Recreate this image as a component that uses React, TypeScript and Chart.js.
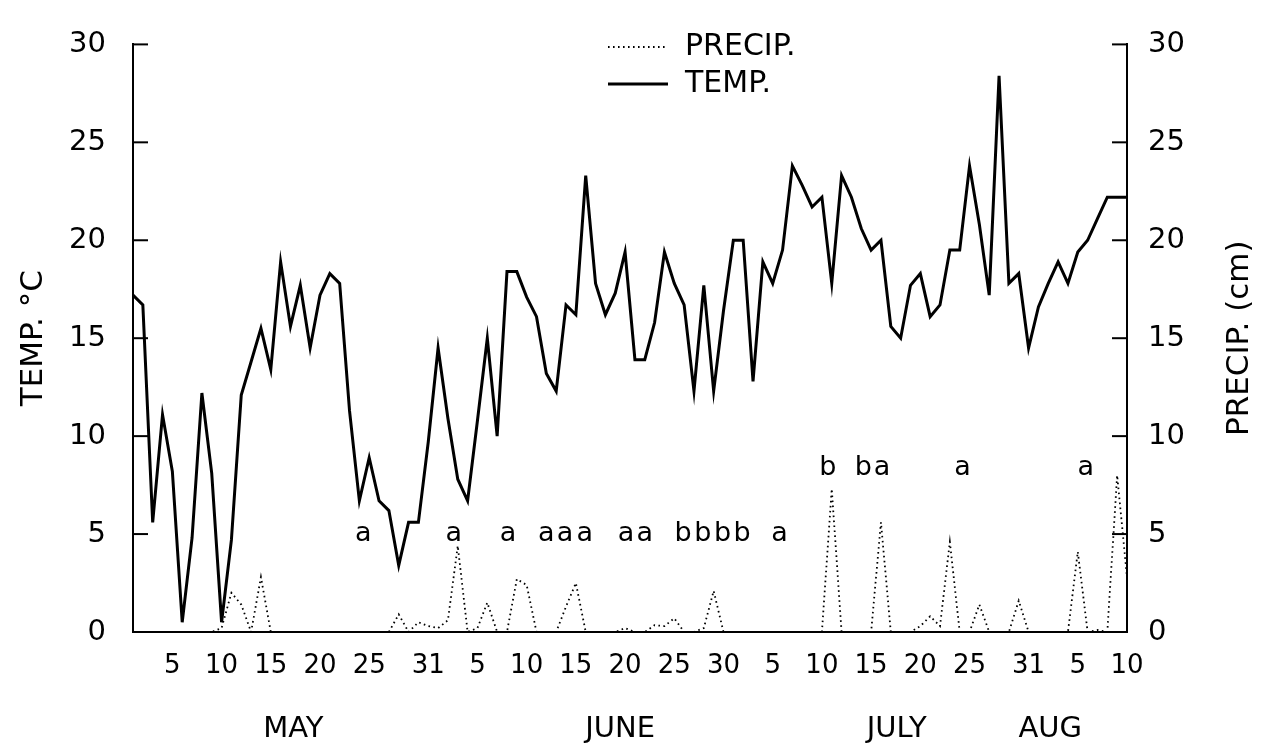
import React, { useEffect, useRef } from 'react';
import { Chart, registerables } from 'chart.js';

Chart.register(...registerables);

// Daily series, May 1 (day 0) to Aug 10 (day 101)
const tempValues = [
  17.2, 16.7, 5.6, 11.1, 8.2, 0.5, 4.8, 12.2, 8.1, 0.5,
  4.7, 12.1, 13.8, 15.5, 13.4, 18.9, 15.6, 17.7, 14.5, 17.2,
  18.3, 17.8, 11.3, 6.7, 8.9, 6.7, 6.2, 3.4, 5.6, 5.6,
  9.7, 14.5, 10.9, 7.8, 6.7, 10.8, 15.0, 10.0, 18.4, 18.4,
  17.1, 16.1, 13.2, 12.3, 16.7, 16.2, 23.3, 17.8, 16.2, 17.3,
  19.4, 13.9, 13.9, 15.8, 19.4, 17.8, 16.7, 12.3, 17.7, 12.3,
  16.4, 20.0, 20.0, 12.8, 18.9, 17.8, 19.5, 23.8, 22.8, 21.7,
  22.2, 17.8, 23.3, 22.2, 20.6, 19.5, 20.0, 15.6, 15.0, 17.7,
  18.3, 16.1, 16.7, 19.5, 19.5, 23.8, 20.8, 17.2, 28.4, 17.8,
  18.3, 14.5, 16.6, 17.8, 18.9, 17.8, 19.4, 20.0, 21.1, 22.2,
  22.2, 22.2,
];

const precipValues = [
  0, 0, 0, 0, 0, 0, 0, 0, 0, 0.2,
  2.0, 1.4, 0, 2.8, 0, 0, 0, 0, 0, 0,
  0, 0, 0, 0, 0, 0, 0, 0.9, 0, 0.5,
  0.3, 0.2, 0.6, 4.4, 0, 0.2, 1.5, 0, 0, 2.7,
  2.4, 0, 0, 0, 1.3, 2.5, 0, 0, 0, 0,
  0.2, 0, 0, 0.35, 0.3, 0.7, 0, 0, 0.2, 2.1,
  0, 0, 0, 0, 0, 0, 0, 0, 0, 0,
  0, 7.3, 0, 0, 0, 0, 5.6, 0, 0, 0,
  0.3, 0.8, 0.3, 4.6, 0, 0, 1.4, 0, 0, 0,
  1.6, 0, 0, 0, 0, 0, 4.1, 0, 0.1, 0,
  8.0, 2.8,
];

const xTickDays = [4, 9, 14, 19, 24, 30, 35, 40, 45, 50, 55, 60, 65, 70, 75, 80, 85, 91, 96, 101];
const xTickLabels = ['5', '10', '15', '20', '25', '31', '5', '10', '15', '20', '25', '30', '5', '10', '15', '20', '25', '31', '5', '10'];

const monthLabels = ['MAY', 'JUNE', 'JULY', 'AUG'];
const monthCenters = [16.3, 49.5, 77.6, 93.2];

const letterTexts = ['a', 'a', 'a', 'a', 'a', 'a', 'a', 'a', 'b', 'b', 'b', 'b', 'a', 'b', 'b', 'a', 'a', 'a'];
const letterDays = [23.4, 32.6, 38.1, 42.0, 43.9, 45.9, 50.1, 52.0, 55.9, 57.9, 59.9, 61.9, 65.7, 70.6, 74.2, 76.1, 84.3, 96.8];
const letterLevels = [4.65, 4.65, 4.65, 4.65, 4.65, 4.65, 4.65, 4.65, 4.65, 4.65, 4.65, 4.65, 4.65, 8.0, 8.0, 8.0, 8.0, 8.0];

const leftAxisTitle = 'TEMP. °C';
const rightAxisTitle = 'PRECIP. (cm)';

const FONT = "'DejaVu Sans', sans-serif";

const inwardTicks = {
  id: 'inwardTicks',
  afterDraw(chart: any) {
    const ctx = chart.ctx;
    ['y', 'y2'].forEach((id) => {
      const s = chart.scales[id];
      ctx.save();
      ctx.strokeStyle = '#000';
      ctx.lineWidth = 2;
      s.ticks.forEach((t: any) => {
        const py = s.getPixelForValue(t.value);
        const x0 = id === 'y' ? s.right : s.left;
        const dir = id === 'y' ? 1 : -1;
        ctx.beginPath();
        ctx.moveTo(x0, py);
        ctx.lineTo(x0 + dir * 15, py);
        ctx.stroke();
      });
      ctx.restore();
    });
  },
};

const rightTitle = {
  id: 'rightTitle',
  afterDraw(chart: any) {
    const ctx = chart.ctx;
    const s = chart.scales.y2;
    ctx.save();
    ctx.translate(1240, (s.top + s.bottom) / 2);
    ctx.rotate(-Math.PI / 2);
    ctx.fillStyle = '#000';
    ctx.font = `31px ${FONT}`;
    ctx.textAlign = 'center';
    ctx.textBaseline = 'middle';
    ctx.fillText(rightAxisTitle, 0, 0);
    ctx.restore();
  },
};

const letterMarks = {
  id: 'letterMarks',
  afterDatasetsDraw(chart: any) {
    const ctx = chart.ctx;
    const xs = chart.scales.x;
    const ys = chart.scales.y;
    ctx.save();
    ctx.fillStyle = '#000';
    ctx.font = `27px ${FONT}`;
    ctx.textAlign = 'center';
    ctx.textBaseline = 'alphabetic';
    letterTexts.forEach((t, i) => {
      ctx.fillText(t, xs.getPixelForValue(letterDays[i]), ys.getPixelForValue(letterLevels[i]));
    });
    ctx.restore();
  },
};

const customLegend = {
  id: 'customLegend',
  afterDraw(chart: any) {
    const ctx = chart.ctx;
    const x0 = 608;
    const x1 = 668;
    const tx = 685;
    const rows = [47, 84];
    ctx.save();
    chart.data.datasets.forEach((ds: any, i: number) => {
      const y = rows[i];
      ctx.strokeStyle = ds.borderColor;
      ctx.lineWidth = ds.borderWidth;
      ctx.setLineDash(ds.borderDash || []);
      ctx.beginPath();
      ctx.moveTo(x0, y);
      ctx.lineTo(x1, y);
      ctx.stroke();
      ctx.setLineDash([]);
      ctx.fillStyle = '#000';
      ctx.font = `30px ${FONT}`;
      ctx.textAlign = 'left';
      ctx.textBaseline = 'middle';
      ctx.fillText(ds.label, tx, y);
    });
    ctx.restore();
  },
};

export default function App() {
  const canvasRef = useRef<HTMLCanvasElement | null>(null);

  useEffect(() => {
    if (!canvasRef.current) return;
    const chart = new Chart(canvasRef.current, {
      type: 'line',
      data: {
        datasets: [
          {
            label: 'PRECIP.',
            data: precipValues.map((v, i) => ({ x: i, y: v })),
            yAxisID: 'y2',
            borderColor: '#000',
            borderWidth: 1.8,
            borderDash: [1.6, 3.4],
            pointRadius: 0,
            tension: 0,
            fill: false,
          },
          {
            label: 'TEMP.',
            data: tempValues.map((v, i) => ({ x: i, y: v })),
            yAxisID: 'y',
            borderColor: '#000',
            borderWidth: 3,
            pointRadius: 0,
            tension: 0,
            fill: false,
          },
        ],
      },
      options: {
        animation: false,
        responsive: false,
        layout: { padding: { top: 25, left: 0, right: 0, bottom: 0 } },
        plugins: {
          legend: { display: false },
          tooltip: { enabled: false },
        },
        scales: {
          x: {
            type: 'linear',
            position: 'bottom',
            min: 0,
            max: 101,
            weight: 0,
            afterBuildTicks: (s: any) => {
              s.ticks = xTickDays.map((v) => ({ value: v }));
            },
            afterFit: (s: any) => {
              s.height = 60;
            },
            ticks: {
              autoSkip: false,
              maxRotation: 0,
              padding: 19,
              color: '#000',
              font: { family: FONT, size: 26 },
              callback: (_v: any, i: number) => xTickLabels[i],
            },
            grid: { display: false, drawTicks: false },
            border: { display: true, color: '#000', width: 2 },
          },
          xMonth: {
            type: 'linear',
            position: 'bottom',
            min: 0,
            max: 101,
            weight: 1,
            afterBuildTicks: (s: any) => {
              s.ticks = monthCenters.map((v) => ({ value: v }));
            },
            afterFit: (s: any) => {
              s.height = 55;
            },
            ticks: {
              autoSkip: false,
              maxRotation: 0,
              padding: 20,
              color: '#000',
              font: { family: FONT, size: 29 },
              callback: (_v: any, i: number) => monthLabels[i],
            },
            grid: { display: false, drawTicks: false },
            border: { display: false },
          },
          y: {
            type: 'linear',
            position: 'left',
            min: 0,
            max: 30,
            afterFit: (s: any) => {
              s.width = 133;
            },
            ticks: {
              stepSize: 5,
              padding: 27,
              color: '#000',
              font: { family: FONT, size: 29 },
            },
            grid: { display: false, drawTicks: false },
            border: { display: true, color: '#000', width: 2 },
            title: {
              display: true,
              text: leftAxisTitle,
              color: '#000',
              font: { family: FONT, size: 31 },
              padding: { top: 15, bottom: 0 },
            },
          },
          y2: {
            type: 'linear',
            position: 'right',
            min: 0,
            max: 30,
            afterFit: (s: any) => {
              s.width = 139;
            },
            ticks: {
              stepSize: 5,
              padding: 21,
              color: '#000',
              font: { family: FONT, size: 29 },
            },
            grid: { display: false, drawTicks: false },
            border: { display: true, color: '#000', width: 2 },
            title: { display: false, text: rightAxisTitle },
          },
        },
      },
      plugins: [inwardTicks, letterMarks, customLegend, rightTitle],
    } as any);
    return () => chart.destroy();
  }, []);

  return (
    <div style={{ position: 'absolute', left: 0, top: 0, width: 1266, height: 747, background: '#fff' }}>
      <canvas ref={canvasRef} width={1266} height={747} style={{ display: 'block' }} />
    </div>
  );
}
